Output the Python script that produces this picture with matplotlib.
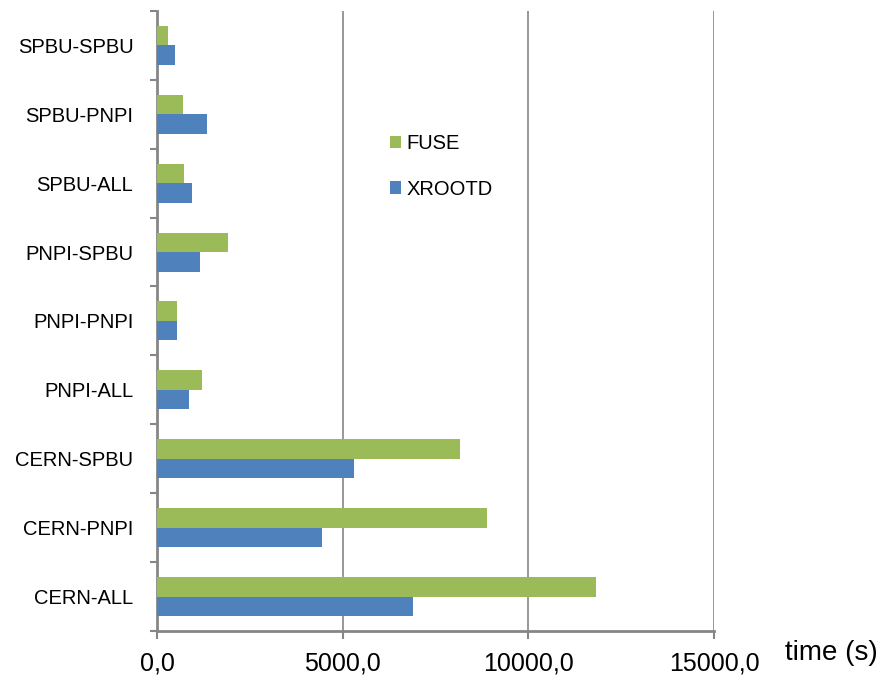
import matplotlib.pyplot as plt
import numpy as np

plt.rcParams['font.family'] = ['Liberation Sans', 'DejaVu Sans']

categories = ['SPBU-SPBU', 'SPBU-PNPI', 'SPBU-ALL', 'PNPI-SPBU', 'PNPI-PNPI',
              'PNPI-ALL', 'CERN-SPBU', 'CERN-PNPI', 'CERN-ALL']
fuse = [285, 690, 735, 1915, 550, 1210, 8165, 8880, 11830]
xrootd = [475, 1355, 935, 1150, 530, 855, 5315, 4435, 6900]
xticks = [0, 5000, 10000, 15000]
xtick_labels = ['0,0', '5000,0', '10000,0', '15000,0']

green = '#9BBB59'
blue = '#4F81BD'
gray = '#868686'

fig = plt.figure(figsize=(8.85, 6.77), dpi=100)
ax = fig.add_axes([0.1774, 0.0679, 0.6294, 0.9161])

y = np.arange(len(categories))
h = 0.283
ax.barh(y - h / 2, fuse, height=h, color=green, label='FUSE', zorder=3)
ax.barh(y + h / 2, xrootd, height=h, color=blue, label='XROOTD', zorder=3)

ax.set_xlim(0, 15000)
ax.set_ylim(len(categories) - 0.5, -0.5)
ax.set_xticks(xticks)
ax.set_xticklabels(xtick_labels, fontsize=18)
ax.set_yticks(y)
ax.set_yticklabels(categories, fontsize=14.5)
ax.set_yticks(np.arange(len(categories) + 1) - 0.5, minor=True)
ax.tick_params(axis='y', which='major', length=0, pad=17)
ax.tick_params(axis='y', which='minor', length=5, width=1.5, color=gray)
ax.tick_params(axis='x', length=6, width=1.5, color=gray, pad=9)

ax.grid(axis='x', color=gray, linewidth=1.2, zorder=0)
for s in ['top', 'right']:
    ax.spines[s].set_visible(False)
for s in ['left', 'bottom']:
    ax.spines[s].set_color(gray)
    ax.spines[s].set_linewidth(2)

ax.legend(loc='upper left', bbox_to_anchor=(0.385, 0.83), frameon=False,
          fontsize=14.5, handlelength=0.55, handleheight=0.55,
          handletextpad=0.3, labelspacing=1.3)

fig.text(0.887, 0.025, 'time (s)', fontsize=20)

fig.savefig('out.png', dpi=100)
